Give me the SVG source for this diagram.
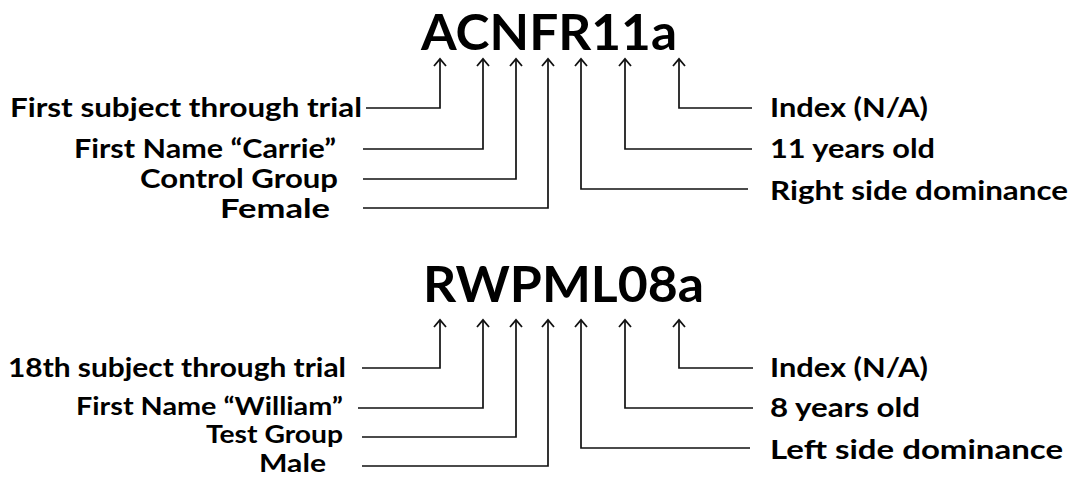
<svg xmlns="http://www.w3.org/2000/svg" width="1074" height="478" viewBox="0 0 1074 478">
  <style>
    .title { font-family: Lato, "Open Sans", sans-serif; font-weight: 700; font-size: 50px; fill: #000; }
    .lbl { font-family: Lato, "Open Sans", sans-serif; font-weight: 700; font-size: 27px; fill: #000; }
    .tight { font-size: 25px; }
    .l { text-anchor: end; }
    .conn { fill: none; stroke: #111; stroke-width: 1.7; marker-start: url(#arr); }
  </style>
  <defs>
    <marker id="arr" viewBox="0 0 20 20" refX="10" refY="2" markerWidth="20" markerHeight="20" markerUnits="userSpaceOnUse" orient="0">
      <path d="M4 9 L10 2 L16 9" fill="none" stroke="#111" stroke-width="1.8"/>
    </marker>
  </defs>
  <rect width="1074" height="478" fill="#fff"/>

  <g id="code1"><text class="title" x="421" y="50" textLength="256" lengthAdjust="spacingAndGlyphs">ACNFR11a</text></g>
  <g id="code2"><text class="title" x="423" y="302" textLength="281" lengthAdjust="spacingAndGlyphs">RWPML08a</text></g>

  <g id="t-first"><text class="lbl l" x="362" y="117" textLength="352" lengthAdjust="spacingAndGlyphs">First subject through trial</text></g>
  <g id="t-carrie"><text class="lbl l" x="336" y="158" textLength="262" lengthAdjust="spacingAndGlyphs">First Name “Carrie”</text></g>
  <g id="t-control"><text class="lbl l" x="338" y="188" textLength="198" lengthAdjust="spacingAndGlyphs">Control Group</text></g>
  <g id="t-female"><text class="lbl l" x="330" y="218" textLength="110" lengthAdjust="spacingAndGlyphs">Female</text></g>
  <g id="t-index1"><text class="lbl" x="770" y="117" textLength="158" lengthAdjust="spacingAndGlyphs">Index (N/A)</text></g>
  <g id="t-age1"><text class="lbl" x="770" y="158" textLength="165" lengthAdjust="spacingAndGlyphs">11 years old</text></g>
  <g id="t-right"><text class="lbl" x="770" y="200" textLength="298" lengthAdjust="spacingAndGlyphs">Right side dominance</text></g>

  <g id="t-18th"><text class="lbl l" x="346" y="377" textLength="338" lengthAdjust="spacingAndGlyphs">18th subject through trial</text></g>
  <g id="t-william"><text class="lbl tight l" x="343" y="415" textLength="267" lengthAdjust="spacingAndGlyphs">First Name “William”</text></g>
  <g id="t-test"><text class="lbl tight l" x="343" y="443" textLength="137" lengthAdjust="spacingAndGlyphs">Test Group</text></g>
  <g id="t-male"><text class="lbl tight l" x="326" y="472" textLength="67" lengthAdjust="spacingAndGlyphs">Male</text></g>
  <g id="t-index2"><text class="lbl" x="770" y="377" textLength="158" lengthAdjust="spacingAndGlyphs">Index (N/A)</text></g>
  <g id="t-age2"><text class="lbl" x="770" y="417" textLength="150" lengthAdjust="spacingAndGlyphs">8 years old</text></g>
  <g id="t-left"><text class="lbl" x="770" y="459" textLength="293" lengthAdjust="spacingAndGlyphs">Left side dominance</text></g>

  <g id="connectors">
    <path class="conn" d="M440 59 V108 H366"/>
    <path class="conn" d="M483 59 V149 H363"/>
    <path class="conn" d="M516 59 V179 H363"/>
    <path class="conn" d="M548 59 V208 H363"/>
    <path class="conn" d="M581 59 V189 H748"/>
    <path class="conn" d="M625 59 V149 H752"/>
    <path class="conn" d="M679 59 V108 H752"/>

    <path class="conn" d="M440 320 V368 H362"/>
    <path class="conn" d="M483 320 V408 H358"/>
    <path class="conn" d="M516 320 V437 H362"/>
    <path class="conn" d="M548 320 V466 H362"/>
    <path class="conn" d="M581 320 V448 H750"/>
    <path class="conn" d="M625 320 V408 H753"/>
    <path class="conn" d="M679 320 V368 H753"/>
  </g>
</svg>
